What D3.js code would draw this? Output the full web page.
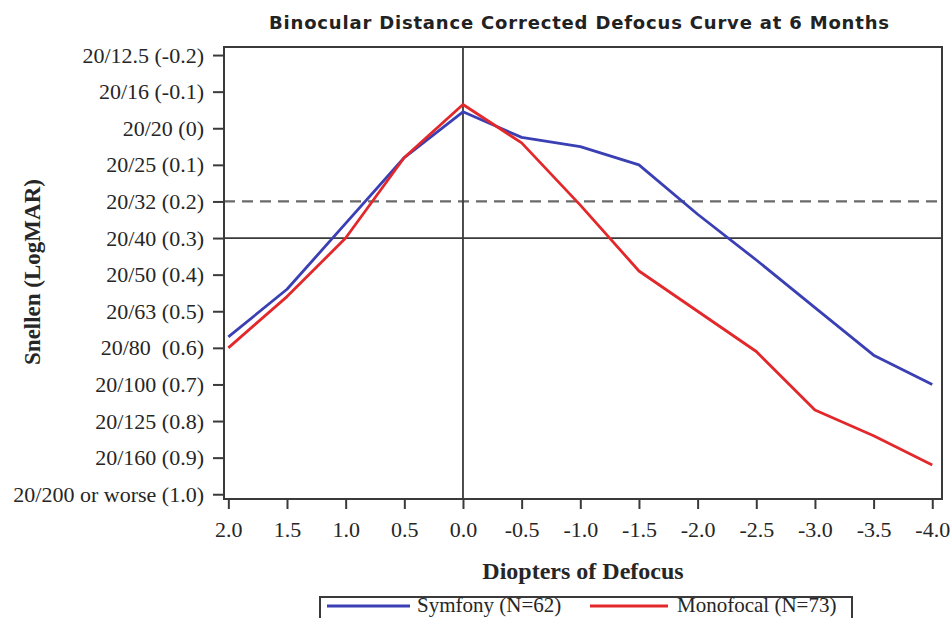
<!DOCTYPE html>
<html>
<head>
<meta charset="utf-8">
<script src="https://cdn.jsdelivr.net/npm/d3@7"></script>
<style>
  html, body { margin: 0; padding: 0; background: #fff; }
  svg { display: block; }
  .serif { font-family: "Liberation Serif", "Times New Roman", serif; }
</style>
</head>
<body>
<svg id="chart" width="952" height="618"></svg>
<script>
// Defocus levels (diopters)
const defocus = [2.0, 1.5, 1.0, 0.5, 0.0, -0.5, -1.0, -1.5, -2.0, -2.5, -3.0, -3.5, -4.0];
const xTickLabels = ["2.0", "1.5", "1.0", "0.5", "0.0", "-0.5", "-1.0", "-1.5", "-2.0", "-2.5", "-3.0", "-3.5", "-4.0"];

// Mean binocular visual acuity (logMAR) at each defocus level
const symfony   = [0.57, 0.44, 0.26, 0.08, -0.045, 0.025, 0.05, 0.10, 0.235, 0.36, 0.49, 0.62, 0.70];
const monofocal = [0.60, 0.46, 0.30, 0.08, -0.065, 0.04, 0.21, 0.39, 0.50, 0.61, 0.77, 0.84, 0.92];

// Vertical axis ticks: logMAR values and their Snellen equivalents
const yTickValues = [-0.2, -0.1, 0.0, 0.1, 0.2, 0.3, 0.4, 0.5, 0.6, 0.7, 0.8, 0.9, 1.0];
const yTickLabels = ["20/12.5 (-0.2)", "20/16 (-0.1)", "20/20 (0)", "20/25 (0.1)", "20/32 (0.2)",
  "20/40 (0.3)", "20/50 (0.4)", "20/63 (0.5)", "20/80  (0.6)", "20/100 (0.7)",
  "20/125 (0.8)", "20/160 (0.9)", "20/200 or worse (1.0)"];

const seriesNames = ["Symfony (N=62)", "Monofocal (N=73)"];
const seriesColors = ["#3b3fb4", "#e3282b"];

// Reference lines
const dashedRef = 0.2;
const solidRef = 0.3;
const verticalRef = 0.0;

const svg = d3.select("#chart");
const frame = { left: 224, right: 942, top: 47, bottom: 499 };

const x = d3.scaleLinear().domain([2.037, -4.083]).range([frame.left, frame.right]);
const y = d3.scaleLinear().domain([-0.222, 1.013]).range([frame.top, frame.bottom]);

const axisColor = "#3a3a3a";
const textColor = "#262626";

// Title
svg.append("text")
  .attr("x", 579).attr("y", 29)
  .attr("text-anchor", "middle")
  .attr("font-family", "'DejaVu Sans', sans-serif")
  .attr("font-weight", "bold")
  .attr("font-size", 18)
  .attr("textLength", 620)
  .attr("fill", "#222")
  .text("Binocular Distance Corrected Defocus Curve at 6 Months");

// Reference lines
svg.append("line")
  .attr("x1", frame.left).attr("x2", frame.right)
  .attr("y1", y(dashedRef)).attr("y2", y(dashedRef))
  .attr("stroke", "#6a6a6a").attr("stroke-width", 2.2)
  .attr("stroke-dasharray", "11,7");
svg.append("line")
  .attr("x1", frame.left).attr("x2", frame.right)
  .attr("y1", y(solidRef)).attr("y2", y(solidRef))
  .attr("stroke", axisColor).attr("stroke-width", 1.8);
svg.append("line")
  .attr("x1", x(verticalRef)).attr("x2", x(verticalRef))
  .attr("y1", frame.top).attr("y2", frame.bottom)
  .attr("stroke", axisColor).attr("stroke-width", 1.8);

// Series lines
const line = d3.line().x((d, i) => x(defocus[i])).y(d => y(d));
[symfony, monofocal].forEach((vals, k) => {
  svg.append("path")
    .datum(vals)
    .attr("d", line)
    .attr("fill", "none")
    .attr("stroke", seriesColors[k])
    .attr("stroke-width", 2.8)
    .attr("stroke-linejoin", "round");
});

// Axes
const yAxis = d3.axisLeft(y)
  .tickValues(yTickValues)
  .tickFormat((d, i) => yTickLabels[i])
  .tickSize(11).tickPadding(9);
const gy = svg.append("g")
  .attr("transform", `translate(${frame.left},0)`)
  .call(yAxis);

const xAxis = d3.axisBottom(x)
  .tickValues(defocus)
  .tickFormat((d, i) => xTickLabels[i])
  .tickSize(10).tickPadding(12);
const gx = svg.append("g")
  .attr("transform", `translate(0,${frame.bottom})`)
  .call(xAxis);

[gx, gy].forEach(g => {
  g.select(".domain").remove();
  g.selectAll(".tick line").attr("stroke", axisColor).attr("stroke-width", 2);
  g.selectAll(".tick text")
    .attr("class", "serif")
    .attr("font-size", 22)
    .attr("fill", textColor)
    .style("white-space", "pre");
});

// Plot frame
svg.append("rect")
  .attr("x", frame.left).attr("y", frame.top)
  .attr("width", frame.right - frame.left)
  .attr("height", frame.bottom - frame.top)
  .attr("fill", "none")
  .attr("stroke", axisColor).attr("stroke-width", 2);

// Axis titles
svg.append("text")
  .attr("class", "serif")
  .attr("x", 583).attr("y", 579)
  .attr("text-anchor", "middle")
  .attr("font-size", 24).attr("font-weight", "bold")
  .attr("fill", textColor)
  .text("Diopters of Defocus");

svg.append("text")
  .attr("class", "serif")
  .attr("transform", "translate(40,272) rotate(-90)")
  .attr("text-anchor", "middle")
  .attr("font-size", 23).attr("font-weight", "bold")
  .attr("fill", textColor)
  .text("Snellen (LogMAR)");

// Legend (box runs past the bottom edge of the canvas)
const legend = svg.append("g");
legend.append("rect")
  .attr("x", 320).attr("y", 597)
  .attr("width", 532).attr("height", 30)
  .attr("fill", "#fff")
  .attr("stroke", axisColor).attr("stroke-width", 2);
const legendItems = [
  { x1: 327, x2: 410, tx: 417 },
  { x1: 590, x2: 668, tx: 677 }
];
legendItems.forEach((it, k) => {
  legend.append("line")
    .attr("x1", it.x1).attr("x2", it.x2)
    .attr("y1", 606).attr("y2", 606)
    .attr("stroke", seriesColors[k]).attr("stroke-width", 2.8);
  legend.append("text")
    .attr("class", "serif")
    .attr("x", it.tx).attr("y", 612)
    .attr("font-size", 21)
    .attr("fill", textColor)
    .text(seriesNames[k]);
});
</script>
</body>
</html>
